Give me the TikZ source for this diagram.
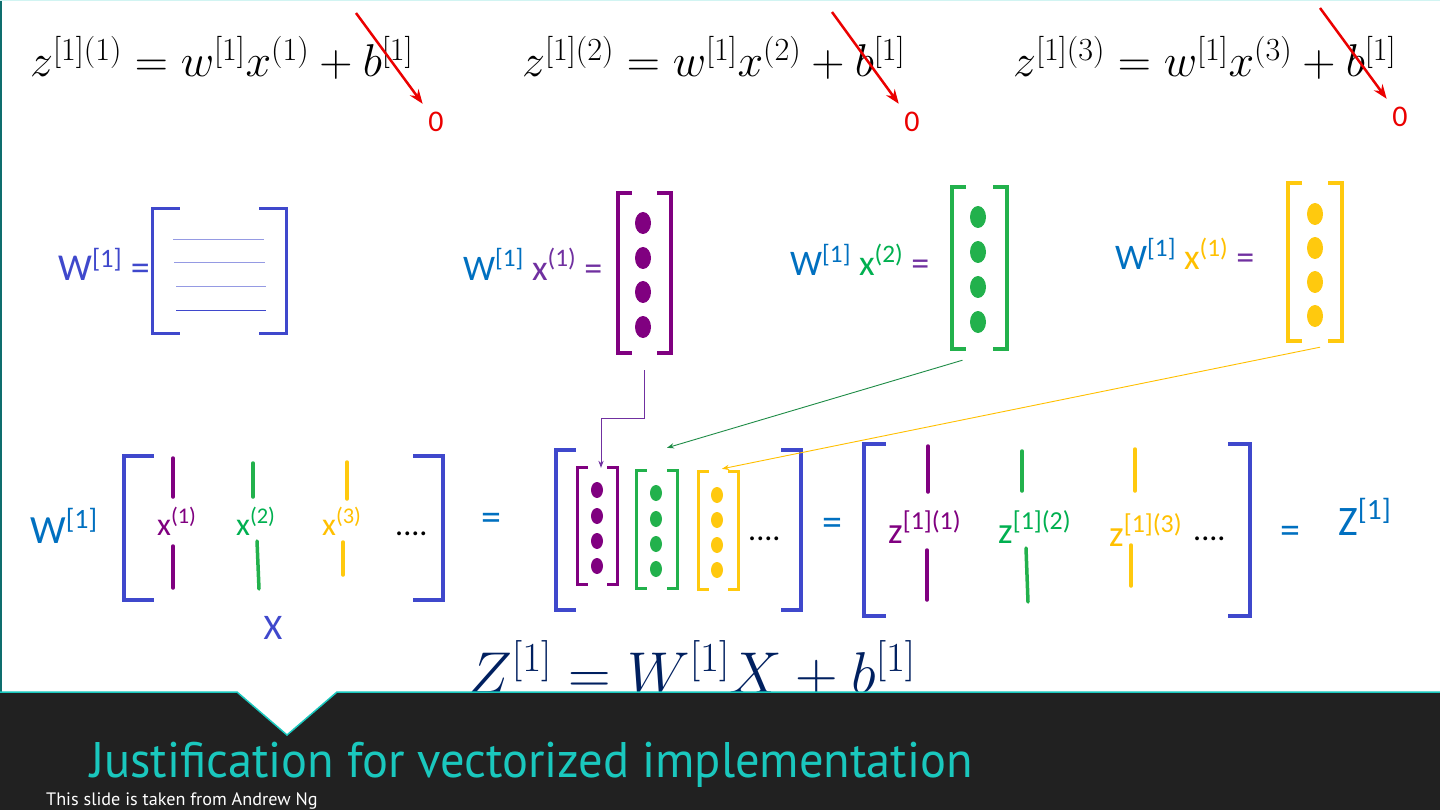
\RequirePackage{fix-cm}
\documentclass[tikz,border=0pt]{standalone}
\usepackage[no-math]{fontspec}
\setmainfont{Carlito}
\newfontfamily\slidefont{PT Sans}
\usepackage{graphicx}
\usetikzlibrary{arrows.meta}
\definecolor{wblue}{RGB}{0,112,192}
\definecolor{mblue}{RGB}{63,72,204}
\definecolor{tpurple}{RGB}{112,48,160}
\definecolor{dpurple}{RGB}{128,0,128}
\definecolor{tgreen}{RGB}{0,176,80}
\definecolor{dgreen}{RGB}{34,177,76}
\definecolor{lgreen}{RGB}{30,140,70}
\definecolor{tyellow}{RGB}{255,192,0}
\definecolor{dyellow}{RGB}{255,201,14}
\definecolor{navy}{RGB}{0,32,96}
\definecolor{crossred}{RGB}{235,0,0}
\definecolor{footer}{RGB}{33,33,33}
\definecolor{teal}{RGB}{26,200,190}
\definecolor{edge}{RGB}{14,110,110}
% square brackets round a node: style, node, cap length
\newcommand{\brk}[3]{%
  \draw[#1] ([xshift=#3]#2.north west) -| (#2.south west) -- ++(#3,0);
  \draw[#1] ([xshift=-#3]#2.north east) -| (#2.south east) -- ++(-#3,0);}

\begin{document}
\begin{tikzpicture}[x=1pt,y=-1pt,>=Stealth,
  lbl/.style={anchor=base west,inner sep=0pt},
  box/.style={inner sep=0pt,minimum width=#1},
  bar/.style={line width=3.5pt,line cap=round},
  link/.style={->,line width=0.9pt},
  cross/.style={->,crossred,line width=2.5pt,shorten >=6pt}]
\useasboundingbox (0,0) rectangle (1440,810);
\fill[white] (0,0) rectangle (1440,810);
\draw[edge,line width=2pt] (1,692) -- (1,0);
\draw[teal!20,line width=1.5pt] (0,0.75) -- (1440,0.75);

% the three single-example equations
\node[lbl,font=\fontsize{46}{52}\selectfont] (eqa) at (30,77) {$z^{[1](1)}=w^{[1]}x^{(1)}+b^{[1]}$};
\node[lbl,font=\fontsize{46}{52}\selectfont] (eqb) at (522,77) {$z^{[1](2)}=w^{[1]}x^{(2)}+b^{[1]}$};
\node[lbl,font=\fontsize{46}{52}\selectfont] (eqc) at (1013,77) {$z^{[1](3)}=w^{[1]}x^{(3)}+b^{[1]}$};
\node[crossred,font=\fontsize{30}{36}\selectfont] (zeroa) at (436,122) {0};
\node[crossred,font=\fontsize{30}{36}\selectfont] (zerob) at (912,122) {0};
\node[crossred,font=\fontsize{30}{36}\selectfont] (zeroc) at (1400,117) {0};
\coordinate (ta) at (356,13);
\coordinate (tb) at (832,12);
\coordinate (tc) at (1320,8);
\draw[cross] (ta) -- (zeroa);
\draw[cross] (tb) -- (zerob);
\draw[cross] (tc) -- (zeroc);

% W and the products
\node[lbl,text=mblue,font=\fontsize{38}{44}\selectfont] (wlab) at (58,281) {W\textsuperscript{[1]} =};
\node[box=133pt,minimum height=124pt] (wmat) at (219.5,271) {};
\brk{mblue,line width=3pt}{wmat}{27pt}
\draw[mblue!55,line width=1pt] (173,240) -- (264,240);
\draw[mblue!55,line width=1pt] (174,263) -- (265,263);
\draw[mblue!55,line width=1pt] (176,287) -- (266,287);
\draw[mblue,line width=1pt] (176,310) -- (266,310);

\node[lbl,font=\fontsize{36}{42}\selectfont] (pa) at (463,280) {\textcolor{wblue}{W\textsuperscript{[1]}} \textcolor{tpurple}{x\textsuperscript{(1)} =}};
\node[lbl,font=\fontsize{36}{42}\selectfont] (pb) at (790,276) {\textcolor{wblue}{W\textsuperscript{[1]}} \textcolor{tgreen}{x\textsuperscript{(2)}} \textcolor{tpurple}{=}};
\node[lbl,font=\fontsize{36}{42}\selectfont] (pc) at (1115,270) {\textcolor{wblue}{W\textsuperscript{[1]}} \textcolor{tyellow}{x\textsuperscript{(1)}} \textcolor{tpurple}{=}};

\node[box=53pt,minimum height=160pt] (va) at (644.5,273) {};
\brk{dpurple,line width=4pt}{va}{14pt}
\foreach \yy in {223,258,292,327} \fill[dpurple] (643,\yy) ellipse (8pt and 11pt);
\node[box=55pt,minimum height=162pt] (vb) at (979.5,268) {};
\brk{dgreen,line width=4pt}{vb}{14pt}
\foreach \yy in {217,252,287,322} \fill[dgreen] (978,\yy) ellipse (8pt and 11pt);
\node[box=54pt,minimum height=158pt] (vc) at (1315,262) {};
\brk{dyellow,line width=4pt}{vc}{14pt}
\foreach \yy in {214,248,282,316} \fill[dyellow] (1315,\yy) ellipse (8pt and 11pt);

% stacked version
\node[lbl,text=wblue,font=\fontsize{40}{46}\selectfont] (wbig) at (30,543) {W\textsuperscript{[1]}};
\node[box=319pt,minimum height=144pt] (xmat) at (283.5,528) {};
\brk{mblue,line width=4pt}{xmat}{30pt}
\node[lbl,text=dpurple,font=\fontsize{32}{38}\selectfont] (xa) at (157,535) {x\textsuperscript{(1)}};
\node[lbl,text=tgreen,font=\fontsize{32}{38}\selectfont] (xb) at (236,535) {x\textsuperscript{(2)}};
\node[lbl,text=tyellow,font=\fontsize{32}{38}\selectfont] (xc) at (322,535) {x\textsuperscript{(3)}};
\draw[bar,dpurple] (173,458) -- (173,497);
\draw[bar,dpurple] (173,546) -- (173,588);
\draw[bar,dgreen] (253,463) -- (253,497);
\draw[bar,dgreen] (257,541) -- (259,589);
\draw[bar,dyellow] (347,462) -- (347,499);
\draw[bar,dyellow] (343,542) -- (343,575);
\node[lbl,font=\fontsize{32}{38}\selectfont] (xdots) at (395,535) {....};
\node[text=mblue,font=\fontsize{36}{42}\selectfont] (xname) at (273,628) {X};
\node[text=wblue,font=\fontsize{40}{46}\selectfont] (eqx) at (491,522) {=};

\node[box=245pt,minimum height=160pt] (mid) at (678.5,530) {};
\brk{mblue,line width=4pt}{mid}{20pt}
\node[box=39pt,minimum height=116pt] (sa) at (597.5,526) {};
\brk{dpurple,line width=3pt}{sa}{10pt}
\foreach \yy in {490,516,541,566} \fill[dpurple] (597,\yy) ellipse (6pt and 8pt);
\node[box=40pt,minimum height=117pt] (sb) at (657,529.5) {};
\brk{dgreen,line width=3pt}{sb}{10pt}
\foreach \yy in {493,519,544,569} \fill[dgreen] (656,\yy) ellipse (6pt and 8pt);
\node[box=39pt,minimum height=117pt] (sc) at (718.5,530.5) {};
\brk{dyellow,line width=3pt}{sc}{10pt}
\foreach \yy in {495,520,545,570} \fill[dyellow] (717,\yy) ellipse (6pt and 8pt);
\node[lbl,font=\fontsize{32}{38}\selectfont] (mdots) at (748,540) {....};
\node[text=wblue,font=\fontsize{40}{46}\selectfont] (eqm) at (832,527) {=};

\node[box=386pt,minimum height=172pt] (zmat) at (1057,530) {};
\brk{mblue,line width=4pt}{zmat}{22pt}
\node[lbl,text=dpurple,font=\fontsize{37}{42}\selectfont] (za) at (888,543) {z\textsuperscript{[1](1)}};
\node[lbl,text=tgreen,font=\fontsize{37}{42}\selectfont] (zb) at (998,543) {z\textsuperscript{[1](2)}};
\node[lbl,text=tyellow,font=\fontsize{37}{42}\selectfont] (zc) at (1109,546) {z\textsuperscript{[1](3)}};
\draw[bar,dpurple] (928,446) -- (928,492);
\draw[bar,dpurple] (927,550) -- (927,600);
\draw[bar,dgreen] (1022,451) -- (1022,491);
\draw[bar,dgreen] (1026,548) -- (1028,602);
\draw[bar,dyellow] (1135,449) -- (1135,491);
\draw[bar,dyellow] (1131,545) -- (1131,586);
\node[lbl,font=\fontsize{32}{38}\selectfont] (zdots) at (1193,540) {....};
\node[text=wblue,font=\fontsize{40}{46}\selectfont] (eqz) at (1290,535) {=};
\node[lbl,text=wblue,font=\fontsize{42}{48}\selectfont] (zname) at (1338,535) {Z\textsuperscript{[1]}};

% products dropped into the big matrix
\draw[link,tpurple] ([yshift=-17pt]va.south) -- ++(0,48) -| ([xshift=3.5pt]sa.north);
\draw[link,lgreen] ([shift={(-17pt,-11pt)}]vb.south) -- ([shift={(10pt,23pt)}]sb.north);
\draw[link,tyellow] ([shift={(5pt,-6pt)}]vc.south) -- ([shift={(3.5pt,3pt)}]sc.north);

\node[lbl,text=navy,font=\fontsize{59}{65}\selectfont] (vecq) at (468,693) {$Z^{[1]}=W^{[1]}X+b^{[1]}$};

% title bar
\fill[footer] (0,692) rectangle (1440,810);
\fill[white] (237,692) -- (287,735) -- (337,692) -- cycle;
\draw[teal,line width=1.5pt] (0,692) -- (237,692) -- (287,735) -- (337,692) -- (1440,692);
\node[lbl,text=teal] (title) at (90,777) {\slidefont\fontsize{50}{60}\selectfont\scalebox{0.97}[1]{Justification for vectorized implementation}};
\node[lbl,text=white] (credit) at (46,805) {\slidefont\fontsize{18}{22}\selectfont\scalebox{1.01}[1]{This slide is taken from Andrew Ng}};
\end{tikzpicture}
\end{document}
